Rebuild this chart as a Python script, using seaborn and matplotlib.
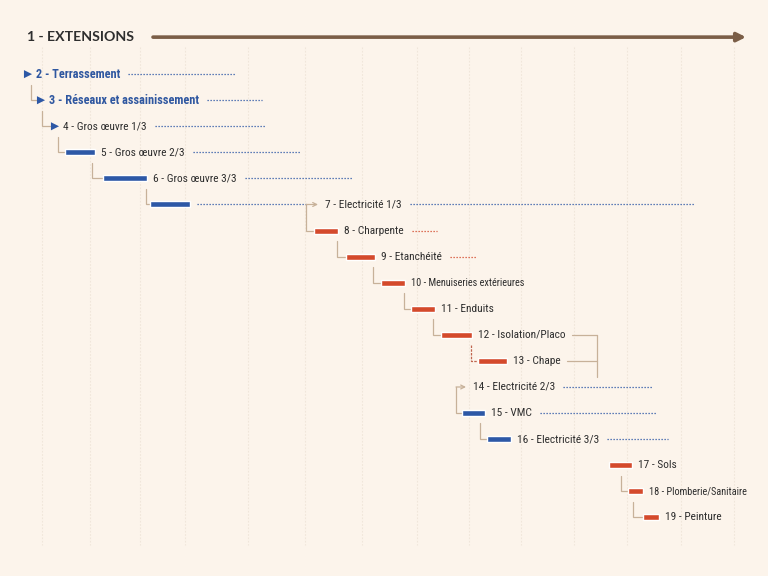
import numpy as np
import pandas as pd
import matplotlib
matplotlib.use("Agg")
import matplotlib.pyplot as plt
from matplotlib import font_manager as fm
import seaborn as sns

# ---------------- data ----------------
title = "1 - EXTENSIONS"
task_ids = list(range(2, 20))
task_names = ["Terrassement", "Réseaux et assainissement", "Gros œuvre 1/3",
              "Gros œuvre 2/3", "Gros œuvre 3/3", "Electricité 1/3", "Charpente",
              "Etanchéité", "Menuiseries extérieures", "Enduits", "Isolation/Placo",
              "Chape", "Electricité 2/3", "VMC", "Electricité 3/3", "Sols",
              "Plomberie/Sanitaire", "Peinture"]
# kind: milestone (triangle), bar, or arrow (arrival of a link)
task_kind = ["milestone", "milestone", "milestone", "bar", "bar", "bar", "bar",
             "bar", "bar", "bar", "bar", "bar", "arrow", "bar", "bar", "bar", "bar", "bar"]
task_lot = ["A", "A", "A", "A", "A", "A", "B", "B", "B", "B", "B", "B",
            "A", "A", "A", "B", "B", "B"]
task_bold = [True, True] + [False] * 16
task_small = [False] * 8 + [True] + [False] * 7 + [True, False]
# timeline positions (timeline units)
bar_start = [28, 41, 55, 65, 103, 150, 314, 346, 381, 411, 441, 478, 466, 462, 487, 609, 628, 643]
bar_end   = [28, 41, 55, 95, 147, 190, 338, 375, 405, 435, 472, 507, 466, 485, 511, 632, 643, 659]
slack_end = [236, 262, 266, 300, 352, 694, 437, 477, np.nan, np.nan, np.nan, np.nan,
             653, 656, 668, np.nan, np.nan, np.nan]
# extra slack on row 7 before the link arrow
pre_slack = {7: (197, 306)}
# links: (from task, to task, link x, start at source centre?)
links = [(2, 3, 31, False), (3, 4, 42, False), (4, 5, 58, False), (5, 6, 92, False),
         (6, 7, 146, False), (7, 8, 306, True), (8, 9, 337, False), (9, 10, 373, False),
         (10, 11, 404, False), (11, 12, 433, False), (12, 13, 471, False),
         (14, 15, 456, True), (15, 16, 480, False), (17, 18, 621, False), (18, 19, 633, False)]
arrow_links = [(7, 306, 318), (14, 456, 466)]
merge_tasks = [12, 13]
merge_x = 597
merge_to = 13.62
week_ticks = [42, 90, 140, 185, 248, 305, 362, 417, 469, 521, 574, 627, 681, 734]
timeline_end = 746

# ---------------- style ----------------
sns.set_theme(style="white")
BG = "#fcf4eb"
BLUE = "#2d58a6"
BLUE_TXT = "#2f57a0"
RED = "#d44a2c"
TAN = "#c7b199"
BROWN = "#7b5e47"
DARK = "#2e2e2e"
GRID = "#f0e6da"
lot_color = {"A": BLUE, "B": RED}

avail = {f.name for f in fm.fontManager.ttflist}
label_font = next((f for f in ["Liberation Sans Narrow", "Roboto Condensed", "Liberation Sans"] if f in avail), "DejaVu Sans")
title_font = next((f for f in ["Lato", "Liberation Sans"] if f in avail), "DejaVu Sans")
plt.rcParams["font.family"] = [label_font, "DejaVu Sans"]

df = pd.DataFrame({"id": task_ids, "name": task_names, "kind": task_kind, "lot": task_lot,
                   "start": bar_start, "end": bar_end, "slack": slack_end,
                   "bold": task_bold, "small": task_small})
df["row"] = df["id"].astype(float)
df["color"] = df["lot"].map(lot_color)

fig = plt.figure(figsize=(7.68, 5.76), dpi=100, facecolor=BG)
ax = fig.add_axes([0, 0, 1, 1])
ax.set_facecolor(BG)

# week grid
ax.vlines(week_ticks, 0.96, 20.05, color=GRID, lw=0.8, ls=(0, (1.5, 1.5)), zorder=0)

# bars
bars = df[df["kind"] == "bar"]
ax.barh(bars["row"], bars["end"] - bars["start"], left=bars["start"], height=0.23,
        color=bars["color"], zorder=3)

# milestones
ms = df[df["kind"] == "milestone"]
sns.scatterplot(data=ms, x="start", y="row", marker=">", s=34, color=BLUE,
                edgecolor="none", ax=ax, zorder=3, legend=False)
ax.set_xlim(0, 768)
ax.set_ylim(21.25, -0.844)
ax.axis("off")

# title + timeline arrow
title_row = 0.58
t = ax.text(27, title_row, title, fontsize=10.2, fontweight="bold", color=DARK,
            family=[title_font, "DejaVu Sans"], va="center", ha="left")
fig.canvas.draw()
r = fig.canvas.get_renderer()
inv = ax.transData.inverted()
tx1 = inv.transform(t.get_window_extent(r))[1, 0]
ax.annotate("", xy=(timeline_end, title_row), xytext=(tx1 + 19, title_row),
            arrowprops=dict(arrowstyle="-|>", color=BROWN, lw=2.6, mutation_scale=13,
                            shrinkA=0, shrinkB=0))

# links
row_of = dict(zip(df["id"], df["row"]))
start_of = dict(zip(df["id"], df["start"]))
for src, dst, lx, centre in links:
    y0 = row_of[src] + (0 if centre else 0.4)
    y1 = row_of[dst]
    x_end = start_of[dst] - (4 if df.loc[df.id == dst, "kind"].item() == "milestone" else 0)
    dashed = (src, dst) == (12, 13)
    col = "#c0654f" if dashed else TAN
    ax.plot([lx, lx, x_end], [y0, y1, y1], color=col, lw=0.9,
            ls=(0, (2, 1)) if dashed else "-", zorder=2, solid_joinstyle="miter")
arrow_tip = {}
for row, xa, xb in arrow_links:
    arrow_tip[row] = xb
    ax.annotate("", xy=(xb, row), xytext=(xa, row),
                arrowprops=dict(arrowstyle="->", color=TAN, lw=0.9, mutation_scale=7,
                                shrinkA=0, shrinkB=0))
for row, (xa, xb) in pre_slack.items():
    ax.plot([xa, xb], [row, row], color=BLUE, lw=0.9, ls=(0, (1, 1.4)), zorder=2)

# labels + slack lines
text_end = {}
for _, d in df.iterrows():
    if d["id"] in arrow_tip:
        x = arrow_tip[d["id"]] + 7
    elif d["kind"] == "bar":
        x = d["end"] + 6
    else:
        x = d["start"] + 8
    txt = f"{d['id']} - {d['name']}"
    if d["bold"]:
        tt = ax.text(x, d["row"], txt, fontsize=8.8, fontweight="bold", color=BLUE_TXT,
                     va="center", ha="left")
    else:
        tt = ax.text(x, d["row"], txt, fontsize=7.4 if d["small"] else 8.2, color=DARK,
                     va="center", ha="left")
    fig.canvas.draw()
    xe = inv.transform(tt.get_window_extent(r))[1, 0]
    text_end[d["id"]] = xe
    if not np.isnan(d["slack"]):
        ax.plot([xe + 8, d["slack"]], [d["row"], d["row"]], color=d["color"], lw=0.9,
                ls=(0, (1, 1.4)), zorder=2)

# merge bracket 12 & 13
for tid in merge_tasks:
    ax.plot([text_end[tid] + 6, merge_x], [row_of[tid]] * 2, color=TAN, lw=0.9)
ax.plot([merge_x, merge_x], [row_of[merge_tasks[0]], merge_to], color=TAN, lw=0.9)

fig.savefig("out.png", dpi=100, facecolor=BG)
